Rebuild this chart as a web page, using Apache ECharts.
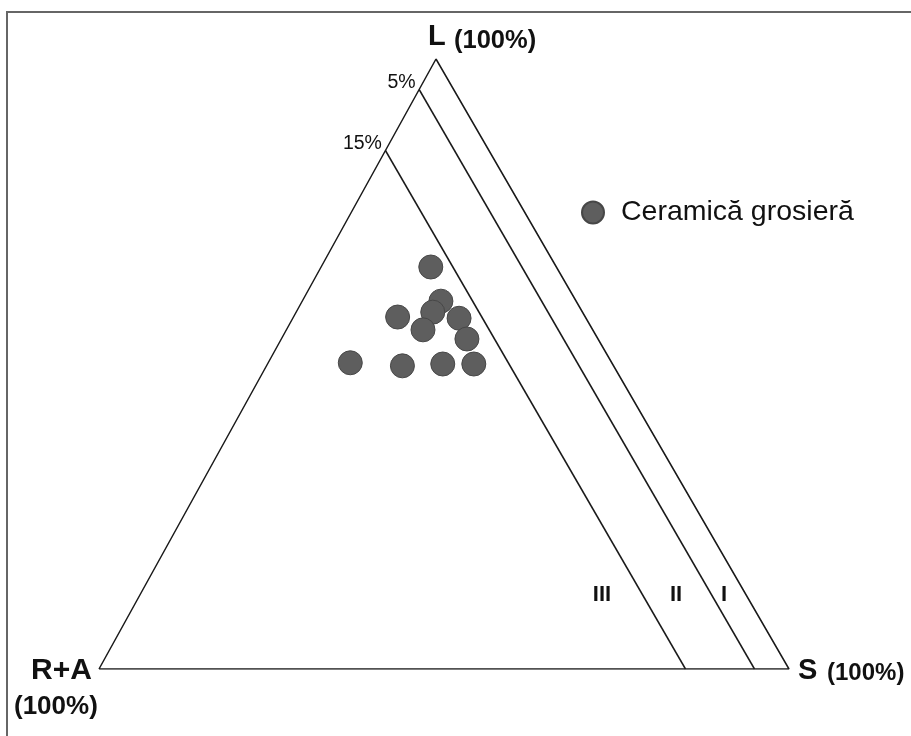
<!DOCTYPE html>
<html>
<head>
<meta charset="utf-8">
<script src="https://cdn.jsdelivr.net/npm/echarts@6/dist/echarts.min.js"></script>
<style>
  html, body { margin: 0; padding: 0; background: #fff; }
  #chart { width: 911px; height: 736px; }
</style>
</head>
<body>
<div id="chart"></div>
<script>
// Ternary composition of the coarse ceramic samples (percent)
const sampleL  = [65.9, 60.3, 58.5, 57.7, 57.5, 55.6, 54.1, 50.2, 49.7, 50.0, 50.0];
const sampleS  = [15.9, 20.1, 19.8, 15.1, 24.1, 19.8, 26.9, 11.9, 19.7, 25.4, 29.9];
const sampleRA = sampleL.map((l, i) => +(100 - l - sampleS[i]).toFixed(1));

// R+A limits separating the fields I / II / III
const zoneLimits = [5, 15];
const zoneLabels = ['5%', '15%'];
const seriesName = 'Ceramică grosieră';

// Horizontal position of the L apex along the base (0 = R+A corner, 1 = S corner)
const APEX_X = 337 / 690;

// Ternary (L, S) fractions -> plane coordinates of the value axes
function toXY(L, S) {
  return [S + L * APEX_X, L];
}

const FONT = '"Liberation Sans", Arial, sans-serif';

const edgeStyle = { color: '#1a1a1a', width: 1.5 };

const triangle = [toXY(0, 0), toXY(0, 1), toXY(1, 0), toXY(0, 0)];

// Each limit line runs from the L–R+A edge to the base; its percent label sits
// at the upper end, drawn as a tiny invisible symbol carrying the label.
const limitSeries = zoneLimits.map((ra, k) => {
  const f = 1 - ra / 100;
  return {
    type: 'line',
    silent: true,
    symbol: 'circle',
    symbolSize: 1,
    showSymbol: true,
    itemStyle: { color: 'rgba(0,0,0,0)' },
    lineStyle: edgeStyle,
    label: { show: false },
    data: [
      {
        value: toXY(f, 0),
        label: {
          show: true,
          position: 'left',
          distance: 3,
          offset: [0, -7],
          formatter: zoneLabels[k],
          fontFamily: FONT,
          fontSize: 19.5,
          color: '#111'
        }
      },
      { value: toXY(0, f) }
    ]
  };
});

const points = sampleL.map((l, i) => toXY(l / 100, sampleS[i] / 100));

const chart = echarts.init(document.getElementById('chart'), null, { renderer: 'canvas' });

function txt(text, x, y, size, bold, align) {
  return {
    type: 'text',
    x: x,
    y: y,
    style: {
      text: text,
      fill: '#111',
      font: (bold ? 'bold ' : '') + size + 'px ' + FONT,
      textAlign: align || 'left',
      textVerticalAlign: 'middle'
    }
  };
}

chart.setOption({
  animation: false,
  backgroundColor: '#fff',
  grid: { left: 99, top: 59, width: 690, height: 610 },
  xAxis: { type: 'value', min: 0, max: 1, show: false },
  yAxis: { type: 'value', min: 0, max: 1, show: false },
  legend: {
    left: 576,
    top: 193,
    icon: 'circle',
    itemWidth: 22,
    itemHeight: 22,
    data: [seriesName],
    textStyle: { fontFamily: FONT, fontSize: 28.5, color: '#111', padding: [0, 0, 0, 12] }
  },
  series: [
    {
      type: 'line',
      silent: true,
      symbol: 'none',
      lineStyle: edgeStyle,
      data: triangle
    },
    ...limitSeries,
    {
      name: seriesName,
      type: 'scatter',
      symbol: 'circle',
      symbolSize: 24,
      itemStyle: { color: '#5e5e5e', borderColor: '#474747', borderWidth: 1, opacity: 1 },
      data: points
    }
  ],
  graphic: [
    {
      type: 'polyline',
      shape: { points: [[7, 736], [7, 12], [911, 12]] },
      style: { stroke: '#666', lineWidth: 2, fill: null }
    },
    txt('L', 428, 37, 29, true),
    txt('(100%)', 454, 41, 25.5, true),
    txt('S', 798, 671, 29, true),
    txt('(100%)', 827, 673, 24, true),
    txt('R+A', 31, 671, 30, true),
    txt('(100%)', 14, 707, 26, true),
    txt('III', 602, 595, 22, true, 'center'),
    txt('II', 676, 595, 22, true, 'center'),
    txt('I', 724, 595, 22, true, 'center')
  ]
});
</script>
</body>
</html>
